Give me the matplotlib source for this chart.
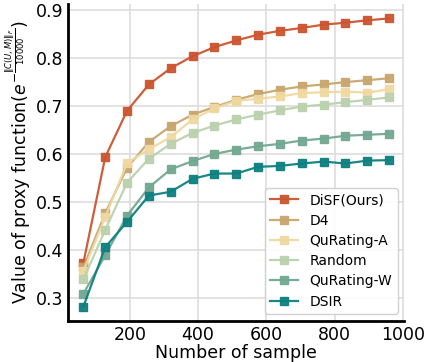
import matplotlib
matplotlib.use("Agg")
import matplotlib.pyplot as plt

# number of samples
n_samples = [64, 128, 192, 256, 320, 384, 448, 512, 576, 640, 704, 768, 832, 896, 960]

disf = [0.372, 0.593, 0.690, 0.745, 0.779, 0.804, 0.823, 0.837, 0.849, 0.857, 0.863, 0.870, 0.874, 0.879, 0.883]
d4 = [0.363, 0.476, 0.571, 0.625, 0.658, 0.682, 0.698, 0.713, 0.725, 0.734, 0.741, 0.745, 0.750, 0.754, 0.758]
qurating_a = [0.355, 0.468, 0.581, 0.610, 0.635, 0.672, 0.695, 0.711, 0.715, 0.720, 0.727, 0.729, 0.730, 0.728, 0.735]
random_sel = [0.338, 0.441, 0.540, 0.590, 0.621, 0.644, 0.659, 0.672, 0.682, 0.691, 0.699, 0.703, 0.708, 0.713, 0.718]
qurating_w = [0.308, 0.388, 0.471, 0.530, 0.568, 0.585, 0.600, 0.609, 0.616, 0.621, 0.628, 0.632, 0.638, 0.640, 0.642]
dsir = [0.281, 0.405, 0.458, 0.513, 0.521, 0.548, 0.559, 0.559, 0.573, 0.575, 0.580, 0.584, 0.580, 0.586, 0.587]

labels = ["DiSF(Ours)", "D4", "QuRating-A", "Random", "QuRating-W", "DSIR"]
colors = ["#cc5530", "#c8a66e", "#f0d9a0", "#bbd1ad", "#72a890", "#0e8080"]
series = [disf, d4, qurating_a, random_sel, qurating_w, dsir]

fig = plt.figure(figsize=(4.28, 3.62), dpi=100)
ax = fig.add_axes([0.159, 0.113, 0.786, 0.876])

for vals, lab, c in zip(series, labels, colors):
    ax.plot(n_samples, vals, color=c, lw=1.6, marker="s", ms=5.5, label=lab, alpha=0.95)

ax.grid(True, color="#dddddd", lw=1.2)
ax.set_axisbelow(True)
for s in ["top", "right"]:
    ax.spines[s].set_visible(False)
for s in ["left", "bottom"]:
    ax.spines[s].set_linewidth(2)
    ax.spines[s].set_color("black")

ax.set_xticks([200, 400, 600, 800, 1000])
ax.set_yticks([0.3, 0.4, 0.5, 0.6, 0.7, 0.8, 0.9])
ax.tick_params(labelsize=12.5, length=0)
ax.set_xlabel("Number of sample", fontsize=12.5, labelpad=0)
ax.set_ylabel(r"Value of proxy function($e^{-\frac{\|C(U,M)\|_F}{10000}}$)", fontsize=12.5, labelpad=2)

ax.legend(loc="lower right", fontsize=10, handlelength=2.0, labelspacing=0.45,
          framealpha=0.9, edgecolor="#cccccc")

fig.savefig("out.png", dpi=100)
